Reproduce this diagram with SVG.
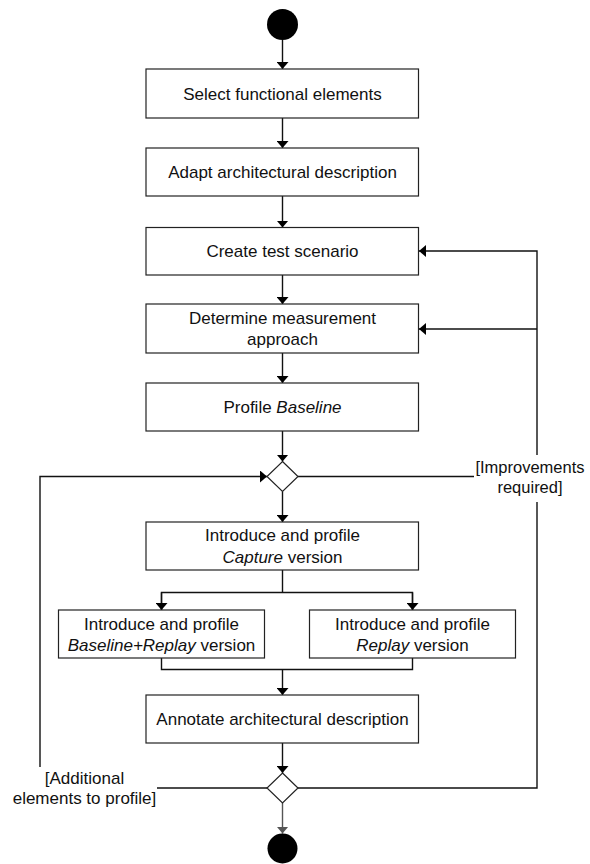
<svg xmlns="http://www.w3.org/2000/svg" width="590" height="864" viewBox="0 0 590 864">
<defs>
<style>
.box{fill:#fff;stroke:#222;stroke-width:1.2}
.t{font-family:"Liberation Sans",Arial,sans-serif;font-size:17px;fill:#111;text-anchor:middle}
.lbl{font-family:"Liberation Sans",Arial,sans-serif;font-size:16.5px;fill:#111;text-anchor:middle}
.c{fill:none;stroke:#111;stroke-width:1.4}
.g{fill:none;stroke:#555;stroke-width:1.4}
.dot{fill:#000}
.dia{fill:#fff;stroke:#222;stroke-width:1.2}
</style>
<marker id="ah" markerUnits="userSpaceOnUse" markerWidth="12" markerHeight="12" viewBox="0 0 12 12" refX="7" refY="6" orient="auto">
<path d="M0,0 L7,6 L0,12 Z" fill="#000"/>
</marker>
<marker id="ahg" markerUnits="userSpaceOnUse" markerWidth="12" markerHeight="12" viewBox="0 0 12 12" refX="7" refY="6" orient="auto">
<path d="M0,0 L7,6 L0,12 Z" fill="#555"/>
</marker>
</defs>
<rect width="590" height="864" fill="#fff"/>

<g id="connectors">
<line class="c" x1="282.5" y1="40" x2="282.5" y2="69" marker-end="url(#ah)"/>
<line class="c" x1="282.5" y1="118" x2="282.5" y2="148" marker-end="url(#ah)"/>
<line class="c" x1="282.5" y1="196" x2="282.5" y2="227.5" marker-end="url(#ah)"/>
<line class="c" x1="282.5" y1="275" x2="282.5" y2="304" marker-end="url(#ah)"/>
<line class="c" x1="282.5" y1="353" x2="282.5" y2="383" marker-end="url(#ah)"/>
<line class="c" x1="282.5" y1="431" x2="282.5" y2="461.5" marker-end="url(#ah)"/>
<line class="c" x1="282.5" y1="491.5" x2="282.5" y2="522" marker-end="url(#ah)"/>
<polyline class="c" points="282.5,570 282.5,592.5"/>
<polyline class="c" points="161.5,610 161.5,592.5 412.5,592.5 412.5,610" />
<line class="c" x1="161.5" y1="592.5" x2="161.5" y2="610" marker-end="url(#ah)"/>
<line class="c" x1="412.5" y1="592.5" x2="412.5" y2="610" marker-end="url(#ah)"/>
<polyline class="c" points="161.5,658 161.5,669.5 412.5,669.5 412.5,658"/>
<line class="c" x1="282.5" y1="669.5" x2="282.5" y2="695" marker-end="url(#ah)"/>
<line class="c" x1="282.5" y1="743" x2="282.5" y2="773" marker-end="url(#ah)"/>
<line class="g" x1="282.5" y1="803" x2="282.5" y2="833.5" marker-end="url(#ahg)"/>
<line class="c" x1="267" y1="788" x2="157" y2="788"/>
<polyline class="c" points="40,767 40,476.5 267,476.5" marker-end="url(#ah)"/>
<polyline class="c" points="298,788 537,788 537,502"/>
<line class="c" x1="298" y1="476.5" x2="474" y2="476.5"/>
<polyline class="c" points="537,455 537,251 419,251" marker-end="url(#ah)"/>
<line class="c" x1="537" y1="329" x2="419" y2="329" marker-end="url(#ah)"/>
</g>

<g id="start"><circle class="dot" cx="282.5" cy="24.5" r="15.5"/></g>

<g id="n1"><rect class="box" x="146" y="69" width="272.5" height="49"/>
<text class="t" x="282.5" y="99.5">Select functional elements</text></g>

<g id="n2"><rect class="box" x="146" y="148" width="272.5" height="48"/>
<text class="t" x="282.5" y="178">Adapt architectural description</text></g>

<g id="n3"><rect class="box" x="146" y="227.5" width="272.5" height="47.5"/>
<text class="t" x="282.5" y="257">Create test scenario</text></g>

<g id="n4"><rect class="box" x="146" y="304" width="272.5" height="49"/>
<text class="t" x="282.5" y="324.3">Determine measurement</text>
<text class="t" x="282.5" y="345.3">approach</text></g>

<g id="n5"><rect class="box" x="146" y="383" width="272.5" height="48"/>
<text class="t" x="282.5" y="413">Profile <tspan font-style="italic">Baseline</tspan></text></g>

<g id="d1"><polygon class="dia" points="282.5,461.5 298,476.5 282.5,491.5 267,476.5"/></g>

<g id="n6"><rect class="box" x="146" y="522" width="272.5" height="48"/>
<text class="t" x="282.5" y="541">Introduce and profile</text>
<text class="t" x="282.5" y="562.5"><tspan font-style="italic">Capture</tspan> version</text></g>

<g id="n7"><rect class="box" x="58.5" y="610" width="206" height="48"/>
<text class="t" x="161.5" y="630.3">Introduce and profile</text>
<text class="t" x="161.5" y="650.5"><tspan font-style="italic">Baseline+Replay</tspan> version</text></g>

<g id="n8"><rect class="box" x="309.5" y="610" width="206" height="48"/>
<text class="t" x="412.5" y="630.3">Introduce and profile</text>
<text class="t" x="412.5" y="650.5"><tspan font-style="italic">Replay</tspan> version</text></g>

<g id="n9"><rect class="box" x="146" y="695" width="272.5" height="48"/>
<text class="t" x="282.5" y="725">Annotate architectural description</text></g>

<g id="d2"><polygon class="dia" points="282.5,773 298,788 282.5,803 267,788"/></g>

<g id="end"><circle class="dot" cx="282.5" cy="848.5" r="15"/></g>

<g id="labels">
<text class="lbl" x="530" y="472.5">[Improvements</text>
<text class="lbl" x="530" y="493">required]</text>
<text class="t" x="84.5" y="784.3">[Additional</text>
<text class="t" x="84.5" y="804.3">elements to profile]</text>
</g>
</svg>
